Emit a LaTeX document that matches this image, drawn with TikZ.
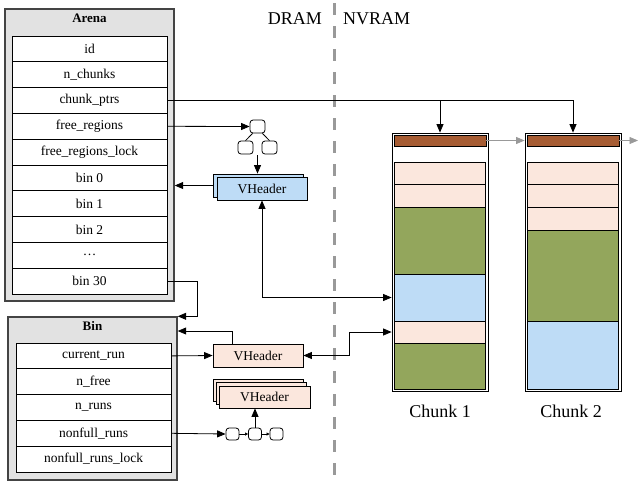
\documentclass[tikz,border=0pt]{standalone}
\usepackage{fontspec}
\setmainfont{Liberation Serif}
\usetikzlibrary{arrows.meta,calc}
\definecolor{pinkc}{HTML}{FBE7DD}
\definecolor{greenc}{HTML}{93A65C}
\definecolor{bluec}{HTML}{BEDCF6}
\definecolor{brownc}{HTML}{A65C33}
\definecolor{boxfill}{HTML}{E2E2E2}
\definecolor{boxline}{HTML}{444444}
\definecolor{divgray}{HTML}{999999}
\tikzset{
  txt/.style={font=\fontsize{13.5}{15}\selectfont},
  outerbox/.style={draw=boxline, fill=boxfill, line width=1.4pt, inner sep=0pt},
  rowbox/.style={draw, fill=white, line width=0.8pt, minimum width=155pt, minimum height=25.8pt, inner sep=0pt, txt},
  vh/.style={draw, line width=0.8pt, minimum width=90pt, minimum height=23pt, inner sep=0pt, txt},
  mini/.style={draw, line width=0.8pt, rounded corners=3pt, fill=white, inner sep=0pt},
  seg/.style={draw, line width=0.8pt, minimum width=91pt, inner sep=0pt},
  frame/.style={draw, line width=0.8pt, fill=white, inner sep=0pt},
  arr/.style={line width=0.8pt, -{Triangle[length=8.5pt,width=7pt]}},
  darr/.style={line width=0.8pt, {Triangle[length=8.5pt,width=7pt]}-{Triangle[length=8.5pt,width=7pt]}},
  smallarr/.style={line width=0.6pt, -{Triangle[length=3pt,width=3pt]}},
  garr/.style={line width=0.8pt, divgray, -{Triangle[length=8.5pt,width=7pt]}},
  divider/.style={line width=3pt, divgray, dash pattern=on 12pt off 11pt},
  bigtxt/.style={font=\fontsize{18}{20}\selectfont, inner sep=0pt}
}
\begin{document}
\begin{tikzpicture}[x=1pt,y=-1pt]
\useasboundingbox (0,0) rectangle (639,483);

% divider and region labels
\coordinate (dtop) at (334,3);
\coordinate (dbot) at (334,483);
\draw[divider] (dtop) -- (dbot);
\node[bigtxt, anchor=east] (dram) at (322,19) {DRAM};
\node[bigtxt, anchor=west] (nvram) at (343,19) {NVRAM};

% Arena
\node[outerbox, minimum width=169pt, minimum height=292pt] (arena) at (89.5,155) {};
\node[txt, font=\fontsize{13}{15}\selectfont\bfseries] (arenat) at (89.5,18.5) {Arena};
\foreach \t [count=\i from 0] in {id, n\_chunks, chunk\_ptrs, free\_regions, free\_regions\_lock, bin 0, bin 1, bin 2, …, bin 30}
  \node[rowbox] (a\i) at (89.5, 48.9+25.8*\i) {\t};

% Bin
\node[outerbox, minimum width=169pt, minimum height=163pt] (bin) at (92.5,398.5) {};
\node[txt, font=\fontsize{13}{15}\selectfont\bfseries] (bint) at (92.5,325.5) {Bin};
\foreach \t [count=\i from 0] in {current\_run, n\_free, n\_runs, nonfull\_runs, nonfull\_runs\_lock}
  \node[rowbox] (b\i) at (93.5, 355.9+25.8*\i) {\t};

% tree icon
\node[mini, minimum width=15pt, minimum height=13pt] (t0) at (257.5,126.5) {};
\node[mini, minimum width=15pt, minimum height=13pt] (t1) at (245.5,147.5) {};
\node[mini, minimum width=15pt, minimum height=13pt] (t2) at (269.5,147.5) {};
\draw[line width=0.8pt] (t0.south west) ++(3,0) -- (t1.north);
\draw[line width=0.8pt] (t0.south east) ++(-3,0) -- (t2.north);

% blue VHeader stack
\node[vh, fill=bluec] (vhbback) at (258,185.5) {};
\node[vh, fill=bluec] (vhb) at (262,188.5) {VHeader};

% pink VHeader (current run)
\node[vh, fill=pinkc] (vhp) at (258,355.5) {VHeader};

% pink VHeader stack
\node[vh, fill=pinkc, minimum height=22pt] (vhs2) at (258,390) {};
\node[vh, fill=pinkc, minimum height=22pt] (vhs1) at (261.3,393.4) {};
\node[vh, fill=pinkc, minimum height=22pt, minimum width=91pt] (vhs) at (264.5,397) {VHeader};

% list icon
\node[mini, minimum width=13pt, minimum height=12pt] (l1) at (232.5,434) {};
\node[mini, minimum width=13pt, minimum height=12pt] (l2) at (255,434) {};
\node[mini, minimum width=13pt, minimum height=12pt] (l3) at (276.5,434) {};

% Chunk 1
\node[frame, minimum width=96pt, minimum height=258pt] (c1) at (440,262) {};
\node[seg, fill=brownc, minimum height=11pt, minimum width=92pt] (c1h) at (440,140.5) {};
\node[seg, fill=pinkc, minimum height=22pt] (c1a) at (440,173) {};
\node[seg, fill=pinkc, minimum height=23pt] (c1b) at (440,195.5) {};
\node[seg, fill=greenc, minimum height=67pt] (c1c) at (440,240.5) {};
\node[seg, fill=bluec, minimum height=47pt] (c1d) at (440,297.5) {};
\node[seg, fill=pinkc, minimum height=22pt] (c1e) at (440,332) {};
\node[seg, fill=greenc, minimum height=46pt] (c1f) at (440,366) {};
\node[bigtxt] (c1l) at (440,411) {Chunk 1};

% Chunk 2
\node[frame, minimum width=96pt, minimum height=258pt] (c2) at (573,262) {};
\node[seg, fill=brownc, minimum height=11pt, minimum width=92pt] (c2h) at (573,140.5) {};
\node[seg, fill=pinkc, minimum height=22pt] (c2a) at (573,173) {};
\node[seg, fill=pinkc, minimum height=23pt] (c2b) at (573,195.5) {};
\node[seg, fill=pinkc, minimum height=23pt] (c2c) at (573,218.5) {};
\node[seg, fill=greenc, minimum height=91pt] (c2d) at (573,275.5) {};
\node[seg, fill=bluec, minimum height=68pt] (c2e) at (573,355) {};
\node[bigtxt] (c2l) at (571,411) {Chunk 2};

% connectors
\draw[arr] (a2.east) -| (c1.north);
\draw[arr] (a2.east) -| (c2.north);
\draw[arr] (a3.east) -- (t0.west);
\draw[arr] ($(t0.center |- t1.south)+(0,1)$) -- (t0.center |- vhbback.north);
\draw[arr] (vhbback.west) -- (vhbback.west -| arena.east);
\draw[darr] (vhb.south) |- (c1.west |- c1d.west);
\coordinate (b30turn) at (197,282);
\draw[arr] (a9.east) -| (bin.north east -| b30turn) -- (bin.north east);
\draw[arr] (b0.east) -- (vhp.west);
\draw[arr] ($(vhp.north west)+(20,0)$) |- (bin.east |- 0,331);
\draw[darr] (vhp.east) -- ++(46,0) |- (c1.west |- c1e.west);
\draw[arr] (b3.east) -- (l1.west);
\draw[smallarr] (l1.east) -- (l2.west);
\draw[smallarr] (l2.east) -- (l3.west);
\draw[arr] (l2.north) -- (l2.north |- vhs.south);
\draw[garr] (c1h.east) -- (c2.west |- c1h.east);
\coordinate (c2next) at (638,140.5);
\draw[garr] (c2h.east) -- (c2next);
\end{tikzpicture}
\end{document}
